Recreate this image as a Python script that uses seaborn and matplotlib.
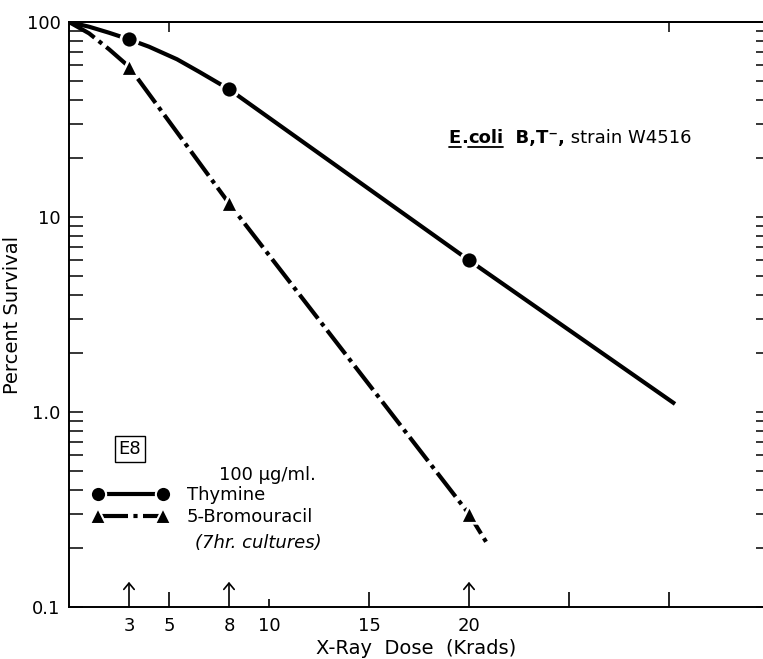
import matplotlib
matplotlib.use("Agg")
import matplotlib.pyplot as plt
import seaborn as sns
from matplotlib.lines import Line2D

# ---------------- data ----------------
marker_dose = [3, 8, 20]
thymine_marker_surv = [81.5, 45.2, 6.0]
bromo_marker_surv = [59.0, 11.75, 0.30]

thymine_curve_dose = [0, 1, 2, 3, 4, 5.4, 6.5, 8, 20, 30.3]
thymine_curve_surv = [100, 94.6, 88.1, 81.5, 74.7, 64.4, 55.6, 45.2, 6.0, 1.10]

bromo_curve_dose = [0, 1, 2, 3, 8, 20, 20.9]
bromo_curve_surv = [100, 87.5, 72.5, 59.0, 11.75, 0.30, 0.212]

x_ticks = [3, 5, 8, 10, 15, 20, 25, 30]
x_tick_labels = ['3', '5', '8', '10', '15', '20', '', '']
arrow_doses = [3, 8, 20]
top_ticks = [5, 30]
y_ticks = [0.1, 1, 10, 100]
y_tick_labels = ['0.1', '1.0', '10', '100']

series_labels = ['Thymine', '5-Bromouracil']
# title pieces: (text, bold, underlined)
title_pieces = [('E', True, True), ('.', True, False), ('coli', True, True),
                ('  B,T⁻,', True, False), (' strain W4516', False, False)]

# ---------------- style ----------------
sns.set_style('ticks')
plt.rcParams['font.family'] = ['DejaVu Sans']
plt.rcParams['text.color'] = 'black'
plt.rcParams['axes.labelcolor'] = 'black'
plt.rcParams['xtick.color'] = 'black'
plt.rcParams['ytick.color'] = 'black'

W, H = 763, 659
fig = plt.figure(figsize=(W / 100, H / 100), dpi=100)
ax = fig.add_axes([69 / W, 52 / H, 694 / W, 585 / H])
ax.set_yscale('log')

BRO_DASH = (0, (7.2, 1.3, 1.0, 1.3))

sns.lineplot(x=thymine_curve_dose, y=thymine_curve_surv, ax=ax, color='black',
             lw=3, sort=False, estimator=None, solid_capstyle='butt', zorder=2)
sns.lineplot(x=bromo_curve_dose, y=bromo_curve_surv, ax=ax, color='black',
             lw=3, sort=False, estimator=None, linestyle=BRO_DASH,
             dash_capstyle='butt', zorder=2)

sns.scatterplot(x=marker_dose, y=thymine_marker_surv, ax=ax, marker='o', s=150,
                color='black', edgecolor='white', linewidth=2, zorder=5)
sns.scatterplot(x=marker_dose, y=bromo_marker_surv, ax=ax, marker='^', s=160,
                color='black', edgecolor='white', linewidth=2, zorder=5)

# ---------------- axes ----------------
ax.set_xlim(0, 34.7)
ax.set_ylim(0.1, 100)
for s in ['left', 'bottom', 'top']:
    ax.spines[s].set_linewidth(1.4)
    ax.spines[s].set_color('black')
ax.spines['right'].set_visible(False)

ax.set_xticks(x_ticks)
ax.set_xticklabels(x_tick_labels)
ax.tick_params(axis='x', which='major', direction='in', length=11, width=1.2,
               pad=7, labelsize=13, colors='black', top=False)
for t, d in zip(ax.xaxis.get_major_ticks(), x_ticks):
    if d in arrow_doses:
        t.tick1line.set_markersize(0)
    elif d == 10:
        t.tick1line.set_markersize(6)

ax.set_yticks(y_ticks)
ax.set_yticklabels(y_tick_labels)
ax.tick_params(axis='y', which='both', direction='in', length=10, width=1.1,
               pad=6, labelsize=13, colors='black', right=False)
ax.tick_params(axis='y', which='minor', labelleft=False)

# right-side short ticks
sec_y = ax.secondary_yaxis('right')
sec_y.tick_params(axis='y', which='both', direction='in', length=5, width=1.1,
                  labelright=False, colors='black')
sec_y.spines['right'].set_visible(False)

# top ticks
sec_x = ax.secondary_xaxis('top')
sec_x.set_xticks(top_ticks)
sec_x.tick_params(axis='x', direction='in', length=7, width=1.1, labeltop=False,
                  colors='black')
sec_x.spines['top'].set_linewidth(1.4)
sec_x.spines['top'].set_color('black')

# arrows marking doses
for d in arrow_doses:
    ax.annotate('', xy=(d, 0.043), xytext=(d, 0.0),
                xycoords=('data', 'axes fraction'),
                textcoords=('data', 'axes fraction'),
                arrowprops=dict(arrowstyle='->, head_length=0.3, head_width=0.25',
                                lw=1.2, color='black', shrinkA=0, shrinkB=0,
                                mutation_scale=15))

ax.set_xlabel('X-Ray  Dose  (Krads)', fontsize=14, color='black')
ax.xaxis.set_label_coords(0.5, -0.055)
ax.set_ylabel('Percent Survival', fontsize=14, color='black')
ax.yaxis.set_label_coords(-0.068, 0.5)

# ---------------- annotations ----------------
ax.text(0.0879, 0.270, 'E8', transform=ax.transAxes, ha='center', va='center',
        fontsize=13, color='black',
        bbox=dict(boxstyle='square,pad=0.2', fc='white', ec='black', lw=1))

ax.text(0.2161, 0.2256, '100 µg/ml.', transform=ax.transAxes, ha='left',
        va='center', fontsize=13, color='black')
ax.text(0.1816, 0.1094, '(7hr. cultures)', transform=ax.transAxes, ha='left',
        va='center', fontsize=13, style='italic', color='black')

h1 = Line2D([], [], color='black', lw=3, marker='o', markersize=11,
            markeredgecolor='white', markeredgewidth=1.5)
h2 = Line2D([], [], color='black', lw=3, ls=BRO_DASH, marker='^', markersize=12,
            markeredgecolor='white', markeredgewidth=1.5)
leg = ax.legend([h1, h2], series_labels, loc='upper left',
                bbox_to_anchor=(0.034, 0.207), frameon=False, numpoints=2,
                handlelength=4.2, handletextpad=1.03, labelspacing=0.25,
                borderpad=0, borderaxespad=0, fontsize=13)
for txt in leg.get_texts():
    txt.set_color('black')

# title with underlined pieces, laid out piece by piece
fig.canvas.draw()
renderer = fig.canvas.get_renderer()
center_x, base_y = 570.0, H - 143.0   # display pixels (origin bottom-left)
texts = []
widths = []
for s, bold, ul in title_pieces:
    t = fig.text(0, base_y / H, s, fontsize=13, va='baseline', ha='left',
                 weight='bold' if bold else 'normal', color='black')
    bb = t.get_window_extent(renderer)
    texts.append(t)
    widths.append(bb.width)
x = center_x - sum(widths) / 2
for (s, bold, ul), t, w in zip(title_pieces, texts, widths):
    t.set_x(x / W)
    if ul:
        fig.add_artist(Line2D([x / W, (x + w) / W], [(base_y - 4) / H] * 2,
                              color='black', lw=1.3, transform=fig.transFigure))
    x += w

fig.savefig('out.png', dpi=100)
